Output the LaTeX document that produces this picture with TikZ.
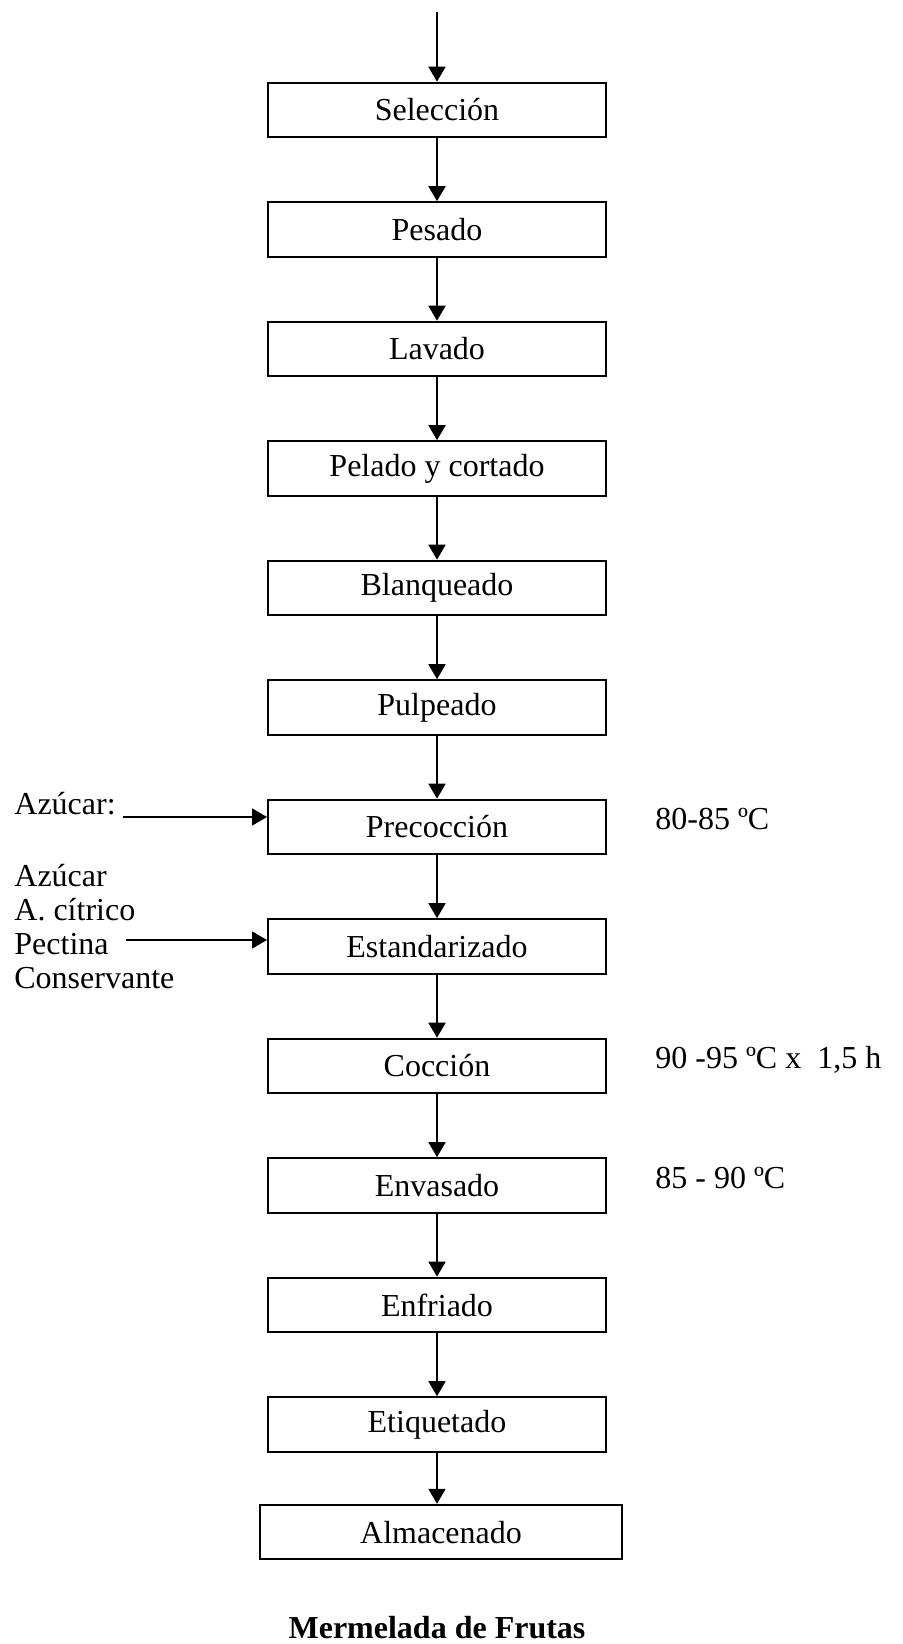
\documentclass[tikz,border=0pt]{standalone}
\usepackage{fontspec}
\setmainfont{Liberation Serif}
\usetikzlibrary{positioning}
\usetikzlibrary{arrows.meta}
\tikzset{%
	% Estilos de las cajas del proceso:
	base/.style = {rectangle, draw=black, line width=1pt,
		inner sep=0pt, text centered,
		font=\fontsize{16pt}{19pt}\selectfont},
	etapa/.style = {base, minimum width=169pt, minimum height=27.3pt},
	etapaAncha/.style = {base, minimum width=181pt, minimum height=27.3pt},
	flecha/.style = {line width=0.9pt, -{Triangle[length=7.5pt, width=8.5pt]}},
	nota/.style = {inner sep=0pt, font=\fontsize{16pt}{17pt}\selectfont},
}
\begin{document}
\begin{tikzpicture}[x=0.5pt, y=-0.5pt, node distance=31.45pt]
	\useasboundingbox (0,0) rectangle (903,1644);
	
	\coordinate (entrada) at (437,12);
	\node (sel) [etapa] at (437,110) {Selección};
	\node (pes) [etapa, below=of sel] {Pesado};
	\node (lav) [etapa, below=of pes] {Lavado};
	\node (pel) [etapa, below=of lav] {Pelado y cortado};
	\node (bla) [etapa, below=of pel] {Blanqueado};
	\node (pul) [etapa, below=of bla] {Pulpeado};
	\node (pre) [etapa, below=of pul] {Precocción};
	\node (est) [etapa, below=of pre] {Estandarizado};
	\node (coc) [etapa, below=of est] {Cocción};
	\node (env) [etapa, below=of coc] {Envasado};
	\node (enf) [etapa, below=of env] {Enfriado};
	\node (eti) [etapa, below=of enf] {Etiquetado};
	\node (alm) [etapaAncha, below=25.5pt of eti, xshift=2pt] {Almacenado};
	
	\draw[flecha] (entrada) -- (sel);
	\draw[flecha] (sel) -- (pes);
	\draw[flecha] (pes) -- (lav);
	\draw[flecha] (lav) -- (pel);
	\draw[flecha] (pel) -- (bla);
	\draw[flecha] (bla) -- (pul);
	\draw[flecha] (pul) -- (pre);
	\draw[flecha] (pre) -- (est);
	\draw[flecha] (est) -- (coc);
	\draw[flecha] (coc) -- (env);
	\draw[flecha] (env) -- (enf);
	\draw[flecha] (enf) -- (eti);
	\draw[flecha] (eti) -- (eti |- alm.north);
	
	% ingredientes que entran por la izquierda
	\node (azu) [nota, anchor=base west] at (14,814) {Azúcar:};
	\coordinate (azuIn) at (123,817);
	\draw[flecha] (azuIn) -- (azuIn -| pre.west);
	\node (aditivos) [nota, anchor=north west, align=left] at (14,864)
		{Azúcar\\A. cítrico\\Pectina\\Conservante};
	\coordinate (aditIn) at (126,940);
	\draw[flecha] (aditIn) -- (aditIn -| est.west);
	
	% condiciones a la derecha
	\node (tPre) [nota, right=24pt of pre, yshift=4pt] {80-85 ºC};
	\node (tCoc) [nota, right=24pt of coc, yshift=3pt] {90 -95 ºC x~~1,5 h};
	\node (tEnv) [nota, right=24pt of env, yshift=4pt] {85 - 90 ºC};
	
	\node (titulo) [font=\fontsize{16pt}{19pt}\selectfont\bfseries] at (437,1628) {Mermelada de Frutas};
\end{tikzpicture}
\end{document}
